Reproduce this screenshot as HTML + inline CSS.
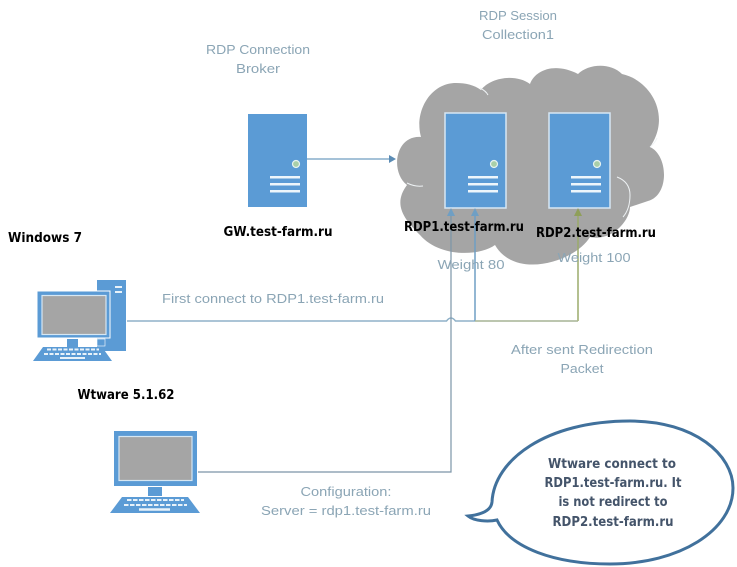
<!DOCTYPE html>
<html><head><meta charset="utf-8"><style>
html,body{margin:0;padding:0;background:#fff;width:737px;height:567px;overflow:hidden}
svg{display:block}
text{font-family:"Liberation Sans",sans-serif}
.l{font-size:13px;fill:#8ba5b5;text-anchor:middle}
.b{font-family:"DejaVu Sans","Liberation Sans",sans-serif;font-size:13px;font-weight:bold;fill:#000;text-anchor:middle}
.c{font-family:"DejaVu Sans","Liberation Sans",sans-serif;font-size:13px;font-weight:bold;fill:#44546a;text-anchor:middle}
</style></head><body>
<svg width="737" height="567" viewBox="0 0 737 567" xmlns="http://www.w3.org/2000/svg">
<path fill="#a5a5a5" d="M421 137C414 112 430 83 456 83C466 83 474 85 481 90C490 78 515 73 530 84C535 70 555 62 578 74C588 64 610 62 622 74C650 80 672 115 650 147C668 155 670 195 648 201L630 207C630 220 612 242 590 237C575 262 515 280 495 245C480 256 440 258 420 235C405 220 392 205 407 185C390 172 395 135 421 137Z"/>
<g fill="none" stroke="#eef2f4" stroke-width="1">
<path d="M480 88q6 3 8 7M407 183q8 4 16 3M617 177q13 5 13 18q0 14-7 22M650 147q5-4 7-9"/>
</g>
<g fill="#5b9bd5">
<rect x="248" y="114" width="59" height="93"/>
<rect x="445" y="113" width="61" height="95" stroke="#d7e7f3" stroke-width="1.5"/>
<rect x="549" y="113" width="61" height="95" stroke="#d7e7f3" stroke-width="1.5"/>
</g>
<g fill="#a9cfa8" stroke="#e6f3f0" stroke-width="1.2">
<circle cx="296" cy="164" r="3.5"/><circle cx="494" cy="164" r="3.5"/><circle cx="597" cy="164" r="3.5"/>
</g>
<g fill="#eef6fb">
<rect x="270" y="176" width="30" height="2.5"/><rect x="270" y="183" width="30" height="2.5"/><rect x="270" y="190" width="30" height="2.5"/>
<rect x="468" y="176" width="30" height="2.5"/><rect x="468" y="183" width="30" height="2.5"/><rect x="468" y="190" width="30" height="2.5"/>
<rect x="571" y="176" width="30" height="2.5"/><rect x="571" y="183" width="30" height="2.5"/><rect x="571" y="190" width="30" height="2.5"/>
</g>
<!-- connectors -->
<g fill="none" stroke-width="1.2">
<path d="M307 159H390" stroke="#6f9dc0"/>
<path d="M127 321H446.500q4.500-6 9 0H578" stroke="#8fb1c8" stroke-width="1.500"/>
<path d="M475 321V214" stroke="#6f9fc4" stroke-width="1.500"/>
<path d="M578 321V214" stroke="#9aaa6a" stroke-width="1.500"/>
<path d="M475 321H578" stroke="#b5bb90" stroke-width="1.200"/>
<path d="M198 472H451V214" stroke="#7c95a8"/>
</g>
<path d="M396 159l-7-4v8z" fill="#5b8cb5"/>
<path d="M451 208l-4 8h8z" fill="#6f9fc4"/>
<path d="M475 208l-4 8h8z" fill="#6f9fc4"/>
<path d="M578 208l-4 8h8z" fill="#8f9f5a"/>
<!-- computer 1 -->
<rect x="97" y="280" width="29" height="71" fill="#5b9bd5"/>
<rect x="115" y="286" width="7" height="2" fill="#e8f2f9"/><rect x="115" y="291" width="7" height="2" fill="#e8f2f9"/>
<rect x="37" y="291" width="73" height="47" fill="#5b9bd5" stroke="#fff" stroke-width="1"/>
<rect x="42" y="295.500" width="64" height="39" fill="#a5a5a5" stroke="#d6e7f3" stroke-width="1.200"/>
<rect x="67" y="339" width="11" height="8" fill="#5b9bd5"/>
<rect x="97" y="339" width="8" height="7" fill="#5b9bd5" stroke="#fff" stroke-width=".6"/>
<path d="M33 361H112L102 347H43z" fill="#5b9bd5"/>
<g fill="none" stroke="#e8f2f9">
<path d="M47 349.500H99M44 354H101" stroke-width="2" stroke-dasharray="4 1.500"/>
<path d="M60 358H85" stroke-width="2"/>
</g>
<!-- computer 2 -->
<rect x="114" y="431" width="83" height="55" fill="#5b9bd5"/>
<rect x="119" y="436.500" width="73" height="44" fill="#a5a5a5" stroke="#d6e7f3" stroke-width="1.200"/>
<rect x="148" y="487" width="14" height="9" fill="#5b9bd5"/>
<path d="M110 513H200L188 497H122z" fill="#5b9bd5"/>
<g fill="none" stroke="#e8f2f9">
<path d="M127 500H184M124 505H187" stroke-width="2" stroke-dasharray="4.500 1.500"/>
<path d="M139 509.500H170" stroke-width="2.500"/>
</g>
<!-- bubble -->
<path d="M492 502C494 460 546 421 630 421C695 421 733 455 733 488C733 530 680 564 610 564C555 564 510 548 497 520C488 522 474 521 468 516C478 515 491 512 492 502Z" fill="#fff" stroke="#41719c" stroke-width="3"/>
<!-- labels -->
<text class="l" x="518" y="20" textLength="78" lengthAdjust="spacingAndGlyphs">RDP Session</text>
<text class="l" x="518" y="39" textLength="72" lengthAdjust="spacingAndGlyphs">Collection1</text>
<text class="l" x="258" y="54" textLength="104" lengthAdjust="spacingAndGlyphs">RDP Connection</text>
<text class="l" x="258" y="73" textLength="44" lengthAdjust="spacingAndGlyphs">Broker</text>
<text class="b" x="278" y="236" textLength="109" lengthAdjust="spacingAndGlyphs">GW.test-farm.ru</text>
<text class="b" x="464" y="231" textLength="120" lengthAdjust="spacingAndGlyphs">RDP1.test-farm.ru</text>
<text class="b" x="596" y="237" textLength="120" lengthAdjust="spacingAndGlyphs">RDP2.test-farm.ru</text>
<text class="l" x="471" y="269" textLength="67" lengthAdjust="spacingAndGlyphs">Weight 80</text>
<text class="l" x="594" y="262" textLength="73" lengthAdjust="spacingAndGlyphs">Weight 100</text>
<text class="b" x="45" y="242" textLength="74" lengthAdjust="spacingAndGlyphs">Windows 7</text>
<text class="l" x="273" y="303" textLength="222" lengthAdjust="spacingAndGlyphs">First connect to RDP1.test-farm.ru</text>
<text class="b" x="126" y="399" textLength="97" lengthAdjust="spacingAndGlyphs">Wtware 5.1.62</text>
<text class="l" x="582" y="354" textLength="142" lengthAdjust="spacingAndGlyphs">After sent Redirection</text>
<text class="l" x="582" y="373" textLength="43" lengthAdjust="spacingAndGlyphs">Packet</text>
<text class="l" x="346" y="496" textLength="91" lengthAdjust="spacingAndGlyphs">Configuration:</text>
<text class="l" x="346" y="515" textLength="170" lengthAdjust="spacingAndGlyphs">Server = rdp1.test-farm.ru</text>
<text class="c" x="612" y="468" textLength="128" lengthAdjust="spacingAndGlyphs">Wtware connect to</text>
<text class="c" x="613" y="487" textLength="137" lengthAdjust="spacingAndGlyphs">RDP1.test-farm.ru. It</text>
<text class="c" x="613" y="506" textLength="109" lengthAdjust="spacingAndGlyphs">is not redirect to</text>
<text class="c" x="613" y="526" textLength="121" lengthAdjust="spacingAndGlyphs">RDP2.test-farm.ru</text>
</svg>
</body></html>
